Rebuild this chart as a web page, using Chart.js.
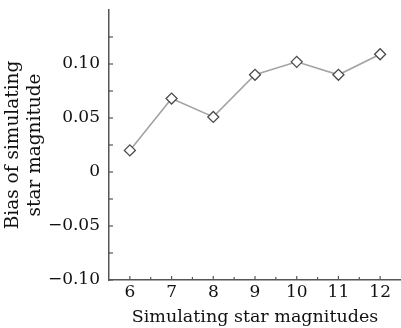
<!DOCTYPE html>
<html><head><meta charset="utf-8">
<script src="https://cdn.jsdelivr.net/npm/chart.js@4"></script>
<style>html,body{margin:0;padding:0;background:#fff}#wrap{width:401px;height:328px}</style>
</head><body><div id="wrap"><canvas id="c" width="401" height="328"></canvas></div>
<script>
const magnitudes = [6, 7, 8, 9, 10, 11, 12];
const bias = [0.020, 0.068, 0.051, 0.090, 0.102, 0.090, 0.109];
const xTickValues = [6, 7, 8, 9, 10, 11, 12];
const yTickValues = [-0.10, -0.05, 0, 0.05, 0.10, 0.15];
const xTitle = 'Simulating star magnitudes';
const yTitle = ['Bias of simulating', 'star magnitude'];

const FONT = 'DejaVu Serif';
const AXIS = '#555';

function fmtY(v){
  if (Math.abs(v) < 1e-9) return '0';
  if (v > 0.125) return '';
  const s = Math.abs(v).toFixed(2);
  return v < 0 ? '\u2212' + s : s;
}

const inwardTicks = {
  id: 'inwardTicks',
  afterDraw(chart){
    const ctx = chart.ctx, x = chart.scales.x, y = chart.scales.y;
    ctx.save();
    ctx.strokeStyle = AXIS; ctx.lineWidth = 1.2;
    const yb = y.bottom, xl = x.left;
    for (let i = 0; i < yTickValues.length; i++){
      const v = yTickValues[i];
      const p = y.getPixelForValue(v);
      if (v < 0.14){ ctx.beginPath(); ctx.moveTo(xl, p); ctx.lineTo(xl + 4, p); ctx.stroke(); }
      if (i < yTickValues.length - 1){
        const m = y.getPixelForValue((v + yTickValues[i+1]) / 2);
        ctx.beginPath(); ctx.moveTo(xl, m); ctx.lineTo(xl + 4, m); ctx.stroke();
      }
    }
    for (let i = 0; i < xTickValues.length; i++){
      const v = xTickValues[i];
      const p = x.getPixelForValue(v);
      ctx.beginPath(); ctx.moveTo(p, yb); ctx.lineTo(p, yb - 4); ctx.stroke();
      if (i < xTickValues.length - 1){
        const m = x.getPixelForValue(v + 0.5);
        ctx.beginPath(); ctx.moveTo(m, yb); ctx.lineTo(m, yb - 3); ctx.stroke();
      }
    }
    ctx.restore();
  }
};

new Chart(document.getElementById('c'), {
  type: 'line',
  data: {
    datasets: [{
      data: magnitudes.map((m, i) => ({x: m, y: bias[i]})),
      borderColor: '#a3a3a3',
      borderWidth: 1.6,
      pointStyle: 'rectRot',
      pointRadius: 5.5,
      pointBorderColor: '#4a4a4a',
      pointBorderWidth: 1.3,
      pointBackgroundColor: '#fff',
      tension: 0,
      clip: false
    }]
  },
  options: {
    responsive: false,
    animation: false,
    layout: { autoPadding: false, padding: { top: 10, right: 0, left: 0, bottom: 0 } },
    plugins: { legend: { display: false }, tooltip: { enabled: false } },
    scales: {
      x: {
        type: 'linear', min: 5.5, max: 12.5,
        afterBuildTicks: s => { s.ticks = xTickValues.map(v => ({value: v})); },
        afterFit: s => { s.height = 48; s.paddingLeft = 0; s.paddingRight = 0; },
        grid: { display: false, drawTicks: false },
        border: { color: AXIS, width: 1.5 },
        ticks: { color: '#111', font: { family: FONT, size: 17 }, padding: 2, maxRotation: 0, autoSkip: false },
        title: { display: true, text: xTitle, color: '#111', font: { family: FONT, size: 17.5 }, padding: { top: 0, bottom: 0 } }
      },
      y: {
        type: 'linear', min: -0.10, max: 0.15,
        afterBuildTicks: s => { s.ticks = yTickValues.map(v => ({value: v})); },
        afterFit: s => { s.width = 109; s.paddingTop = 0; s.paddingBottom = 0; },
        grid: { display: false, drawTicks: false },
        border: { color: AXIS, width: 1.5 },
        ticks: { color: '#111', font: { family: FONT, size: 17 }, padding: 9, callback: v => fmtY(v), autoSkip: false },
        title: { display: true, text: yTitle, color: '#111', font: { family: FONT, size: 18.5, lineHeight: 1.2 }, padding: { top: 2, bottom: 0 } }
      }
    }
  },
  plugins: [inwardTicks]
});
</script></body></html>
